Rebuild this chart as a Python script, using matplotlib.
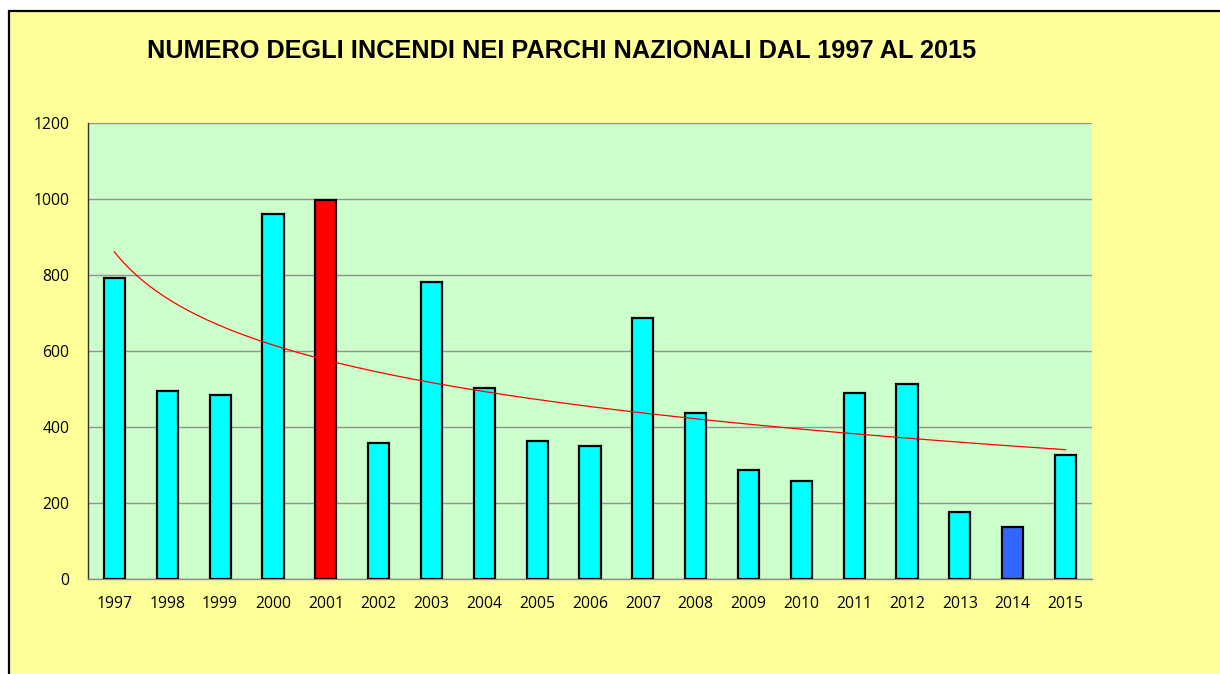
import numpy as np
import matplotlib
matplotlib.use("Agg")
import matplotlib.pyplot as plt
from matplotlib.patches import Rectangle

years = ["1997", "1998", "1999", "2000", "2001", "2002", "2003", "2004", "2005", "2006",
         "2007", "2008", "2009", "2010", "2011", "2012", "2013", "2014", "2015"]
fires = [793, 496, 483, 961, 998, 357, 781, 503, 362, 350,
         688, 438, 288, 259, 490, 514, 177, 137, 327]
yticks = [0, 200, 400, 600, 800, 1000, 1200]
title = "NUMERO DEGLI INCENDI NEI PARCHI NAZIONALI DAL 1997 AL 2015"

W, H = 1220, 674
fig = plt.figure(figsize=(W / 100, H / 100), dpi=100, facecolor="white")

# outer chart frame (cropped on right/bottom)
frame = Rectangle((9 / W, -0.05), 1.1, 1 - 11 / H + 0.05, transform=fig.transFigure,
                  facecolor="#FFFF99", edgecolor="black", linewidth=1.6, zorder=-10)
fig.patches.append(frame)

ax = fig.add_axes([88 / W, 1 - 579 / H, (1092 - 88) / W, (579 - 123) / H])
ax.set_zorder(1)
ax.set_facecolor("#CCFFCC")

colors = ["#00FFFF"] * len(years)
colors[years.index("2001")] = "#FF0000"
colors[years.index("2014")] = "#3366FF"

x = np.arange(len(years))
ax.bar(x, fires, width=0.4, color=colors, edgecolor="black", linewidth=1.6, zorder=3)

# logarithmic trend line (least-squares fit on ln(index))
lnx = np.log(x + 1)
b, a = np.polyfit(lnx, np.array(fires, dtype=float), 1)
xs = np.linspace(0, len(years) - 1, 300)
ax.plot(xs, a + b * np.log(xs + 1), color="#FF0000", linewidth=0.9, zorder=4)

ax.set_xlim(-0.5, len(years) - 0.5)
ax.set_ylim(0, 1200)
ax.set_yticks(yticks)
ax.set_yticklabels([str(t) for t in yticks])
ax.set_xticks(x)
ax.set_xticklabels(years)
ax.yaxis.grid(True, color="#939393", linewidth=1.0, zorder=1)
ax.set_axisbelow(True)
for s in ["top", "right"]:
    ax.spines[s].set_visible(False)
ax.spines["left"].set_color("#333333")
ax.spines["left"].set_linewidth(1.0)
ax.spines["bottom"].set_color("#8C8C8C")
ax.spines["bottom"].set_linewidth(1.0)
ax.tick_params(axis="both", length=0, labelsize=11.3, colors="black")
ax.tick_params(axis="y", pad=13.5)
ax.tick_params(axis="x", pad=12)
for lab in ax.get_xticklabels() + ax.get_yticklabels():
    lab.set_fontfamily(["Open Sans", "DejaVu Sans"])

fig.text(562 / W, 1 - 51 / H, title, ha="center", va="center",
         fontsize=18.2, fontweight="bold", family=["Liberation Sans", "DejaVu Sans"])

fig.savefig("out.png", dpi=100, facecolor=fig.get_facecolor())
